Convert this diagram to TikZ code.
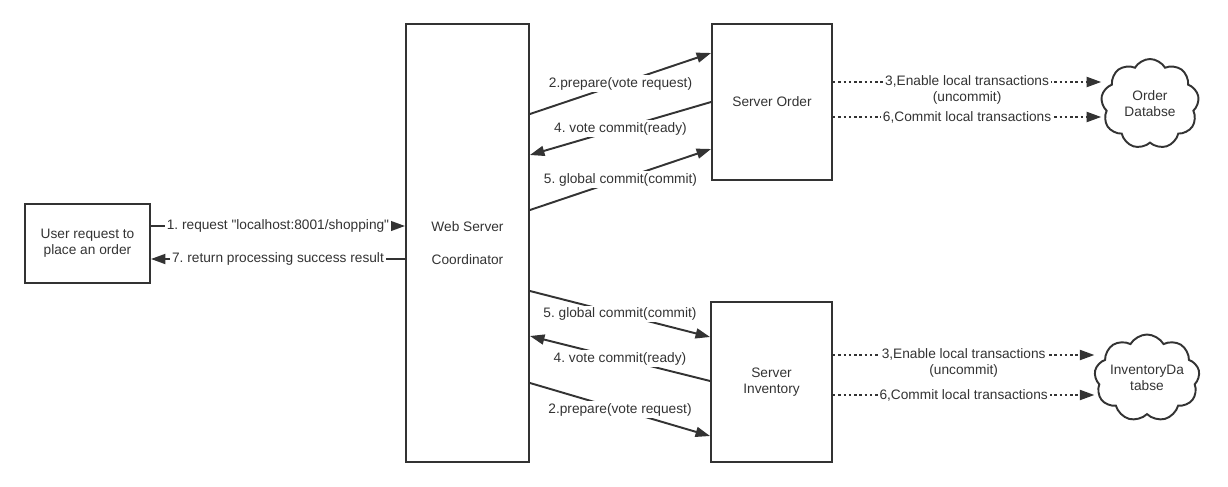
\documentclass[tikz,border=0pt]{standalone}
\usepackage{fontspec}
\setmainfont{Liberation Sans}[Ligatures=TeXOff]
\usetikzlibrary{arrows.meta,shapes.symbols,calc}
\definecolor{ink}{HTML}{333333}

\begin{document}
\frenchspacing
\begin{tikzpicture}[x=0.02cm, y=-0.02cm, font=\fontsize{7.8}{9}\selectfont,
    >={Triangle[length=0.29cm,width=0.2cm]},
    box/.style={draw=ink, line width=1.1pt, text=ink, align=center, inner sep=0pt},
    msg/.style={->, draw=ink, line width=1.1pt},
    local/.style={->, draw=ink, line width=1.1pt, dash pattern=on 1.4pt off 1.6pt},
    lbl/.style={fill=white, text=ink, inner sep=1pt, align=center},
    db/.style={cloud, cloud puffs=9, cloud puff arc=120, cloud ignores aspect,
      draw=ink, line width=1.1pt, text=ink, align=center, inner sep=0pt}]
  \useasboundingbox (0,0) rectangle (1228,487);
  % boxes
  \node[box, minimum width=2.5cm, minimum height=1.58cm] (user) at (87.5,243.5) {User request to\\place an order};
  \node[box, minimum width=2.46cm, minimum height=8.76cm] (web) at (467.5,243) {Web Server\\[0.33cm]Coordinator};
  \node[box, minimum width=2.4cm, minimum height=3.12cm] (order) at (772,102) {Server Order};
  \node[box, minimum width=2.42cm, minimum height=3.2cm] (inv) at (771.5,382) {Server\\Inventory};
  % databases
  \node[db, minimum width=1.96cm, minimum height=1.8cm] (orderdb) at (1150,104) {Order\\Databse};
  \node[db, minimum width=1.94cm, minimum height=1.74cm] (invdb) at (1147,378) {InventoryDa\\tabse};
  % user <-> coordinator
  \draw[msg] (user.east |- 0,226) -- node[lbl, midway] {1. request "localhost:8001/shopping"} (web.west |- 0,226);
  \draw[msg] (web.west |- 0,259) -- node[lbl, midway] {7. return processing success result} (user.east |- 0,259);
  % coordinator <-> server order
  \draw[msg] (web.east |- 0,114) -- node[lbl, midway] {2.prepare(vote request)} (order.west |- 0,53);
  \draw[msg] (order.west |- 0,102) -- node[lbl, midway] {4. vote commit(ready)} (web.east |- 0,155);
  \draw[msg] (web.east |- 0,210) -- node[lbl, midway] {5. global commit(commit)} (order.west |- 0,149);
  % coordinator <-> server inventory
  \draw[msg] (web.east |- 0,291) -- node[lbl, midway] {5. global commit(commit)} (inv.west |- 0,337);
  \draw[msg] (inv.west |- 0,381) -- node[lbl, midway] {4. vote commit(ready)} (web.east |- 0,336);
  \draw[msg] (web.east |- 0,383) -- node[lbl, midway] {2.prepare(vote request)} (inv.west |- 0,436);
  % local transactions
  \draw[local] (order.east |- 0,82) -- node[lbl, midway, yshift=-0.16cm] {3,Enable local transactions\\(uncommit)} (orderdb.west |- 0,82);
  \draw[local] (order.east |- 0,117) -- node[lbl, midway] {6,Commit local transactions} (orderdb.west |- 0,117);
  \draw[local] (inv.east |- 0,355) -- node[lbl, midway, yshift=-0.16cm] {3,Enable local transactions\\(uncommit)} (invdb.west |- 0,355);
  \draw[local] (inv.east |- 0,395) -- node[lbl, midway] {6,Commit local transactions} (invdb.west |- 0,395);
\end{tikzpicture}
\end{document}
